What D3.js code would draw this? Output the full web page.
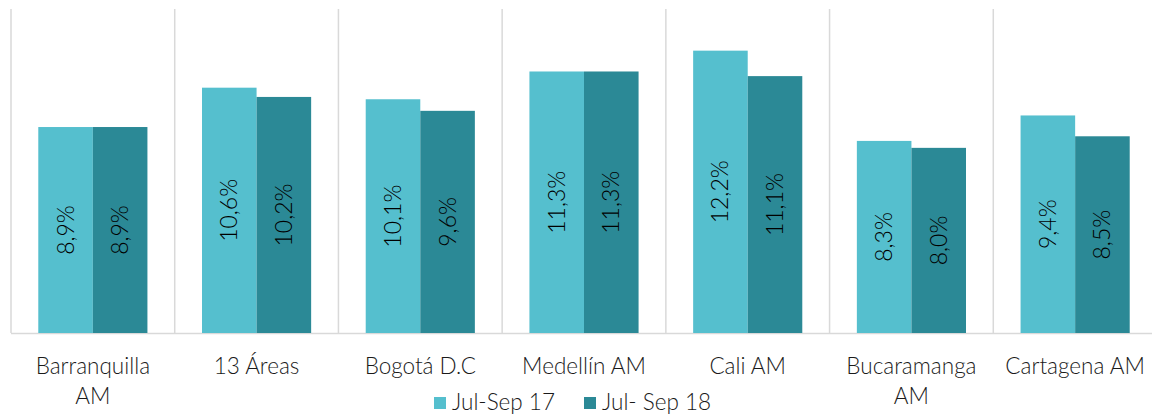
<!DOCTYPE html>
<html>
<head>
<meta charset="utf-8">
<script src="https://cdn.jsdelivr.net/npm/d3@7"></script>
<style>
  body { margin: 0; background: #fff; }
  svg { display: block; font-family: Lato, "Open Sans", sans-serif; }
</style>
</head>
<body>
<div class="chart"></div>
<script>
// Data
var categories = ["Barranquilla\nAM", "13 Áreas", "Bogotá D.C", "Medellín AM", "Cali AM", "Bucaramanga\nAM", "Cartagena AM"];
var seriesNames = ["Jul-Sep 17", "Jul- Sep 18"];
var jul17 = [8.9, 10.6, 10.1, 11.3, 12.2, 8.3, 9.4];
var jul18 = [8.9, 10.2, 9.6, 11.3, 11.1, 8.0, 8.5];
var colors = ["#55bfce", "#2b8996"];

var svgWidth = 1152;
var svgHeight = 418;
var margin = { top: 9, left: 11 };
var plotRight = 1157;   // last category runs past the window edge
var baseline = 333;

var svg = d3.select(".chart")
    .append("svg")
    .attr("width", svgWidth)
    .attr("height", svgHeight);

var x0 = d3.scaleBand()
    .domain(d3.range(categories.length))
    .range([margin.left, plotRight])
    .paddingInner(0)
    .paddingOuter(0);

// gap width 50%: half a bar of space on each side of the pair
var x1 = d3.scaleBand()
    .domain([0, 1])
    .range([0, x0.bandwidth()])
    .paddingOuter(0.5)
    .paddingInner(0);

var y = d3.scaleLinear()
    .domain([0, 14])
    .range([baseline, margin.top]);

// vertical separators
svg.append("g")
    .selectAll("line")
    .data(d3.range(categories.length + 1))
    .enter()
    .append("line")
    .attr("x1", d => margin.left + d * x0.bandwidth())
    .attr("x2", d => margin.left + d * x0.bandwidth())
    .attr("y1", margin.top)
    .attr("y2", baseline)
    .attr("stroke", "#d9d9d9")
    .attr("stroke-width", 1.5);

// baseline
svg.append("line")
    .attr("x1", margin.left)
    .attr("x2", plotRight)
    .attr("y1", baseline + 0.5)
    .attr("y2", baseline + 0.5)
    .attr("stroke", "#d9d9d9")
    .attr("stroke-width", 1.5);

var rows = categories.map(function(c, i) {
    return { i: i, values: [jul17[i], jul18[i]] };
});

var groups = svg.selectAll(".cat")
    .data(rows)
    .enter()
    .append("g")
    .attr("class", "cat")
    .attr("transform", d => `translate(${x0(d.i)}, 0)`);

var bars = groups.selectAll("g.bar")
    .data(d => d.values.map((v, k) => ({ v: v, k: k })))
    .enter()
    .append("g")
    .attr("class", "bar");

bars.append("rect")
    .attr("x", d => x1(d.k))
    .attr("width", x1.bandwidth())
    .attr("y", d => y(d.v))
    .attr("height", d => baseline - y(d.v))
    .attr("fill", d => colors[d.k]);

// value labels, rotated, centered in bar
bars.append("text")
    .attr("transform", d => `translate(${x1(d.k) + x1.bandwidth() / 2}, ${(y(d.v) + baseline) / 2}) rotate(-90)`)
    .attr("text-anchor", "middle")
    .attr("dy", "0.35em")
    .attr("font-size", 23)
    .attr("font-weight", 300)
    .attr("fill", "#000")
    .text(d => d.v.toFixed(1).replace(".", ",") + "%");

// category labels
var catLabels = svg.append("g")
    .selectAll("text")
    .data(categories)
    .enter()
    .append("text")
    .attr("x", (d, i) => x0(i) + x0.bandwidth() / 2)
    .attr("y", 374)
    .attr("text-anchor", "middle")
    .attr("font-size", 22.5)
    .attr("font-weight", 300)
    .attr("fill", "#1a1a1a");

catLabels.each(function(d) {
    var t = d3.select(this);
    d.split("\n").forEach(function(line, j) {
        t.append("tspan")
            .attr("x", t.attr("x"))
            .attr("dy", j === 0 ? 0 : 30)
            .text(line);
    });
});

// legend
var legend = svg.append("g");
var legendX = [434, 584];
seriesNames.forEach(function(name, k) {
    legend.append("rect")
        .attr("x", legendX[k])
        .attr("y", 397)
        .attr("width", 12)
        .attr("height", 12)
        .attr("fill", colors[k]);
    legend.append("text")
        .attr("x", legendX[k] + 18)
        .attr("y", 410)
        .attr("font-size", 22.5)
        .attr("font-weight", 300)
        .attr("fill", "#1a1a1a")
        .text(name);
});
</script>
</body>
</html>
